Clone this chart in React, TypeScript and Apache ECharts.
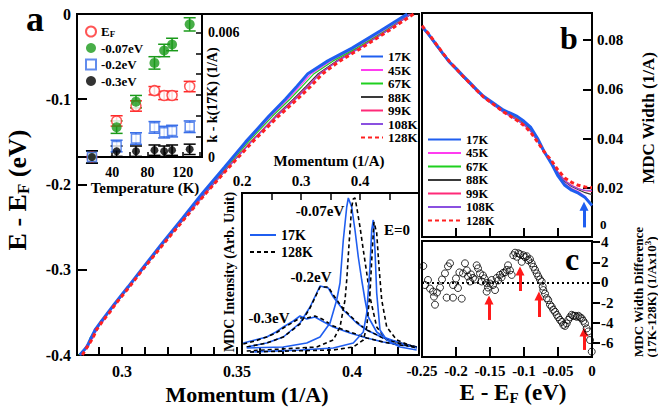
import React, { useEffect, useRef } from "react";
import * as echarts from "echarts";

const FONT = '"Liberation Serif", "Times New Roman", serif';

// ---------- panel a : dispersion k(E) for each temperature ----------
const tempNames = ["17K", "45K", "67K", "88K", "99K", "108K", "128K"];
const dispEnergy = [-0.4, -0.39, -0.38, -0.37, -0.36, -0.35, -0.34, -0.32, -0.3, -0.27, -0.24, -0.21, -0.18, -0.15, -0.12, -0.1, -0.085, -0.07, -0.055, -0.04, -0.02, 0];
const k17K = [0.2817, 0.2849, 0.2866, 0.2885, 0.2912, 0.294, 0.2968, 0.3027, 0.3085, 0.3172, 0.3262, 0.3351, 0.3445, 0.3538, 0.3638, 0.371, 0.376, 0.3808, 0.3895, 0.4, 0.4122, 0.424];
const k45K = [0.2822, 0.2845, 0.2872, 0.288, 0.2918, 0.2938, 0.2972, 0.3029, 0.3088, 0.3175, 0.3266, 0.3356, 0.3451, 0.3545, 0.3647, 0.3721, 0.3773, 0.3823, 0.3908, 0.4012, 0.4136, 0.425];
const k67K = [0.2812, 0.2852, 0.2862, 0.2892, 0.2908, 0.2945, 0.2966, 0.3031, 0.3088, 0.3177, 0.3268, 0.3359, 0.3455, 0.355, 0.3654, 0.373, 0.3783, 0.3835, 0.3918, 0.402, 0.4143, 0.4254];
const k88K = [0.282, 0.2847, 0.287, 0.2887, 0.2916, 0.2942, 0.2971, 0.303, 0.3089, 0.3178, 0.3271, 0.3364, 0.3461, 0.356, 0.3667, 0.3745, 0.38, 0.3853, 0.3933, 0.403, 0.415, 0.4258];
const k99K = [0.2825, 0.2843, 0.2875, 0.2883, 0.292, 0.2937, 0.2975, 0.3028, 0.309, 0.3176, 0.3269, 0.3362, 0.346, 0.356, 0.367, 0.375, 0.3806, 0.3859, 0.3937, 0.4032, 0.415, 0.4256];
const k108K = [0.2815, 0.2855, 0.2868, 0.2894, 0.291, 0.2946, 0.297, 0.3032, 0.3089, 0.3177, 0.327, 0.3363, 0.3461, 0.3562, 0.3673, 0.3754, 0.381, 0.3862, 0.3939, 0.4034, 0.4151, 0.4256];
const k128K = [0.2828, 0.2851, 0.2874, 0.2891, 0.2917, 0.2947, 0.2973, 0.3033, 0.309, 0.318, 0.3273, 0.3366, 0.3465, 0.3568, 0.368, 0.3762, 0.382, 0.3872, 0.3948, 0.404, 0.4157, 0.4268];
const dispK = [k17K, k45K, k67K, k88K, k99K, k108K, k128K];
const aMinorTicks = [0.29, 0.3, 0.31, 0.32, 0.33, 0.34, 0.35, 0.36, 0.37, 0.38, 0.39, 0.4, 0.41, 0.42];
const aLabels = [0.3, 0.35, 0.4];

// ---------- inset: k - k(17K) vs temperature ----------
const insetTemps = [17, 45, 67, 88, 99, 108, 128];
const shiftEF = [0, 0.00174, 0.00246, 0.0032, 0.00297, 0.00297, 0.0034];
const errEF = [0.0003, 0.00025, 0.00025, 0.0002, 0.0002, 0.0002, 0.00025];
const shift007 = [0, 0.00144, 0.00267, 0.00454, 0.00514, 0.00543, 0.0064];
const err007 = [0.0003, 0.0003, 0.0003, 0.0003, 0.0003, 0.0003, 0.00032];
const shift02 = [0, 0.00053, 0.00089, 0.00143, 0.0012, 0.00125, 0.00146];
const err02 = [0.0003, 0.00028, 0.00028, 0.00028, 0.00028, 0.00028, 0.00028];
const shift03 = [0, 0.00028, 0.00028, 0.00033, 0.00028, 0.00033, 0.00037];
const err03 = [0.0003, 0.00025, 0.00025, 0.00025, 0.00025, 0.00025, 0.00025];

// ---------- inset: MDC curves ----------
const mdcK03a = [0.2022, 0.222, 0.2419, 0.2576, 0.27, 0.287, 0.2983, 0.3097, 0.3237, 0.3356, 0.3547, 0.383, 0.4114, 0.4395, 0.4678, 0.4961];
const mdc17K03 = [14, 17, 20, 25, 30, 36, 41, 38, 40, 36, 30, 24, 19, 15, 12, 10];
const mdc128K03 = [13, 16, 20, 24, 29, 35, 39, 39, 41, 38, 31, 25, 19, 15, 12, 10];
const mdcK02 = [0.208, 0.2419, 0.27, 0.2983, 0.3153, 0.3266, 0.3322, 0.3463, 0.3548, 0.3717, 0.3944, 0.4114, 0.4395, 0.4678, 0.4961];
const mdc17K02 = [10, 14, 20, 34, 50, 64, 71, 69, 60, 47, 34, 27, 19, 14, 10];
const mdc128K02 = [10, 14, 20, 33, 49, 63, 70, 70, 62, 48, 35, 27, 19, 14, 10];
const mdcK007a = [0.208, 0.27, 0.3097, 0.3322, 0.3492, 0.3605, 0.3661, 0.3717, 0.3775, 0.3802, 0.3859, 0.3915, 0.3971, 0.4029, 0.4085, 0.4141, 0.4283, 0.4395, 0.4678, 0.4961];
const mdc17K007 = [9, 10, 14, 20, 34, 57, 74, 117, 150, 159, 150, 127, 100, 77, 57, 40, 25, 20, 14, 9];
const mdcK007b = [0.208, 0.3266, 0.3547, 0.3661, 0.3746, 0.3775, 0.3819, 0.3859, 0.3886, 0.3915, 0.3944, 0.4, 0.4056, 0.4114, 0.4169, 0.4283, 0.4452, 0.4961];
const mdc128K007 = [6, 10, 17, 30, 57, 77, 117, 150, 158, 159, 150, 130, 107, 84, 60, 30, 17, 9];
const mdcK0a = [0.2136, 0.2983, 0.3547, 0.3886, 0.4056, 0.4114, 0.4169, 0.4198, 0.4225, 0.4254, 0.4283, 0.4339, 0.4453, 0.4678, 0.4961];
const mdc17K0 = [5, 7, 9, 14, 25, 44, 90, 127, 137, 107, 64, 27, 17, 10, 7];
const mdcK0b = [0.2136, 0.3547, 0.3886, 0.4056, 0.4114, 0.4169, 0.4208, 0.4237, 0.4283, 0.4322, 0.4368, 0.4453, 0.4622, 0.4961];
const mdc128K0 = [5, 7, 10, 17, 30, 64, 107, 135, 124, 90, 57, 30, 17, 9];

// ---------- panel b : MDC width ----------
const bEnergy = [-0.25, -0.24, -0.23, -0.22, -0.21, -0.2, -0.19, -0.18, -0.17, -0.16, -0.15, -0.14, -0.13, -0.12, -0.11, -0.1, -0.09, -0.08, -0.07, -0.06, -0.05, -0.04, -0.03, -0.02, -0.01, 0];
const w17K = [0.0855, 0.0822, 0.0785, 0.0748, 0.0712, 0.0685, 0.0656, 0.0628, 0.06, 0.0573, 0.0554, 0.0534, 0.0515, 0.0503, 0.049, 0.047, 0.0445, 0.04, 0.0345, 0.03, 0.0248, 0.021, 0.019, 0.0178, 0.016, 0.0128];
const w45K = [0.0853, 0.082, 0.0782, 0.0745, 0.071, 0.0683, 0.0652, 0.0625, 0.0597, 0.057, 0.055, 0.053, 0.0512, 0.0498, 0.0484, 0.0463, 0.0438, 0.0398, 0.0348, 0.0305, 0.0255, 0.0218, 0.0198, 0.0185, 0.0165, 0.013];
const w67K = [0.0857, 0.0818, 0.0786, 0.0742, 0.0713, 0.0681, 0.0655, 0.0623, 0.0598, 0.0571, 0.0551, 0.0531, 0.051, 0.0496, 0.048, 0.046, 0.0436, 0.0398, 0.0345, 0.0302, 0.0252, 0.0214, 0.0194, 0.018, 0.0158, 0.0135];
const w88K = [0.0852, 0.0823, 0.078, 0.0747, 0.0709, 0.068, 0.065, 0.0622, 0.0594, 0.0568, 0.0547, 0.0527, 0.0508, 0.0492, 0.0476, 0.0458, 0.0432, 0.0392, 0.0342, 0.0305, 0.026, 0.0225, 0.0205, 0.0192, 0.018, 0.0172];
const w99K = [0.0856, 0.0819, 0.0784, 0.0744, 0.0711, 0.0682, 0.0653, 0.0624, 0.0596, 0.0569, 0.0548, 0.0528, 0.0509, 0.0493, 0.0477, 0.0457, 0.043, 0.039, 0.0343, 0.0307, 0.0265, 0.023, 0.021, 0.0197, 0.0188, 0.0185];
const w108K = [0.0851, 0.0821, 0.0781, 0.0746, 0.0708, 0.0679, 0.0651, 0.0621, 0.0593, 0.0567, 0.0546, 0.0526, 0.0506, 0.049, 0.0474, 0.0455, 0.0428, 0.0389, 0.0342, 0.0306, 0.0263, 0.0228, 0.0208, 0.0195, 0.019, 0.019];
const w128K = [0.0858, 0.0825, 0.0787, 0.0749, 0.0714, 0.0684, 0.0654, 0.0626, 0.0597, 0.057, 0.0549, 0.0529, 0.0508, 0.0491, 0.0473, 0.0453, 0.0425, 0.0386, 0.0345, 0.0312, 0.0272, 0.024, 0.0222, 0.021, 0.0203, 0.02];
const widths = [w17K, w45K, w67K, w88K, w99K, w108K, w128K];
const bTicks = [-0.2, -0.15, -0.1, -0.05];
const bLabels = [0.02, 0.04, 0.06, 0.08];

// ---------- panel c : width difference (17K - 128K) ----------
const cEnergy = [-0.2481, -0.2456, -0.2412, -0.2382, -0.2338, -0.2324, -0.2309, -0.228, -0.2235, -0.2206, -0.2162, -0.2137, -0.2118, -0.2088, -0.2044, -0.2044, -0.2, -0.1971, -0.195, -0.1916, -0.1897, -0.1868, -0.184, -0.1824, -0.1794, -0.178, -0.175, -0.172, -0.1696, -0.1676, -0.1647, -0.1622, -0.1603, -0.158, -0.1549, -0.1549, -0.153, -0.15, -0.1475, -0.1456, -0.1426, -0.1401, -0.138, -0.1353, -0.133, -0.1309, -0.128, -0.1254, -0.1235, -0.1206, -0.1181, -0.1157, -0.1132, -0.1107, -0.1084, -0.1059, -0.1034, -0.101, -0.0985, -0.096, -0.0937, -0.0912, -0.0887, -0.0863, -0.0838, -0.0813, -0.079, -0.0765, -0.074, -0.0725, -0.0716, -0.0691, -0.0666, -0.0643, -0.0618, -0.0593, -0.0569, -0.0544, -0.0519, -0.0496, -0.0471, -0.0446, -0.0422, -0.0397, -0.0372, -0.0349, -0.0324, -0.0299, -0.0275, -0.025, -0.0225, -0.0201, -0.0176, -0.0151, -0.0128, -0.0103, -0.0078, -0.0054, -0.0029, -0.0004];
const cDiff = [1.63, -0.25, 0.25, -0.6, -0.9, -1.4, -2.2, -1.0, -0.5, 0.3, 0.9, -1.5, 1.6, 1.9, -0.25, -1.5, 0.4, -0.55, 1.0, -1.6, 0.9, 1.9, 1.2, 0.6, 0.1, 0.8, 0.45, 0.3, 1.7, 1.4, 0.9, 0.1, 0.7, 0.4, -0.05, -0.9, -0.5, -0.1, 0.25, -0.25, -0.75, 0.45, 0.2, 0.75, 0.5, 0.95, 1.0, 1.25, 1.7, 1.2, 0.75, 2.7, 2.95, 2.55, 2.9, 2.8, 2.05, 2.7, 2.5, 2.6, 2.2, 2.3, 1.9, 1.55, 1.25, 0.9, 0.6, 0.3, 0.1, -0.4, -0.75, -1.1, -1.55, -1.75, -2.2, -2.4, -2.7, -2.9, -3.2, -3.45, -3.7, -3.9, -4.2, -4.3, -4.05, -3.7, -3.45, -3.2, -3.3, -3.3, -3.4, -3.3, -3.45, -3.55, -3.8, -4.05, -4.55, -4.85, -5.7, -6.85];
const cTicks = [-6, -4, -2, 0, 2, 4];
const cXLabels = [-0.25, -0.2, -0.15, -0.1, -0.05, 0];
// arrows: energy, from, to
const cArrowE = [-0.1515, -0.1059, -0.078, -0.0118];
const cArrowFrom = [-3.71, -0.84, -3.42, -6.68];
const cArrowTo = [-1.73, 1.14, -1.34, -4.9];
const bArrowE = -0.0118;
const bArrowFrom = 0.0039;
const bArrowTo = 0.0125;

// ---------- styles ----------
const tColors = ["#1f5ef0", "#ff3cf0", "#1fd01f", "#3a3a3a", "#ff2a78", "#8a50e0", "#ff2020"];
const tWidths = [3, 1.2, 1.2, 1.2, 1.2, 1.2, 3];

const bold = (size: number) => ({ fontFamily: FONT, fontWeight: "bold" as const, fontSize: size, color: "#000" });

export default function App() {
  const ref = useRef<HTMLDivElement>(null);
  useEffect(() => {
    if (!ref.current) return;
    const chart = echarts.init(ref.current, null, { renderer: "svg" });

    const axisLineBase = { show: true, onZero: false, lineStyle: { color: "#000", width: 2 } };
    const noSplit = { show: false };

    const grids = [
      { left: 77, top: 14, width: 342, height: 341 },
      { left: 77, top: 14, width: 125, height: 143, backgroundColor: "#fff" },
      { left: 242, top: 193, width: 177, height: 162, backgroundColor: "#fff" },
      { left: 422, top: 13, width: 170, height: 224 },
      { left: 422, top: 241, width: 170, height: 116 },
    ].map((g) => ({ ...g, show: true, borderColor: "#000", borderWidth: 2, containLabel: false, outerBoundsMode: "none", z: 0 }));

    const xAxis: any[] = [
      {
        gridIndex: 0, type: "value", min: 0.2805, max: 0.4291, axisLine: axisLineBase, splitLine: noSplit,
        axisTick: { show: true, inside: true, length: 8, lineStyle: { width: 2, color: "#000" }, customValues: aMinorTicks },
        axisLabel: { ...bold(16), margin: 8, customValues: aLabels },
      },
      {
        gridIndex: 1, type: "value", min: 0, max: 142, axisLine: axisLineBase, splitLine: noSplit,
        axisTick: { show: true, inside: true, length: 5, lineStyle: { width: 1.5, color: "#000" }, customValues: [20, 40, 60, 80, 100, 120, 140] },
        axisLabel: { ...bold(14), margin: 8, customValues: [40, 80, 120] },
      },
      {
        gridIndex: 2, type: "value", position: "top", min: 0.2, max: 0.5, axisLine: axisLineBase, splitLine: noSplit,
        axisTick: { show: true, inside: true, length: 7, lineStyle: { width: 1.5, color: "#000" }, customValues: [0.25, 0.3, 0.35, 0.4, 0.45] },
        axisLabel: { ...bold(15), margin: 5, customValues: [0.2, 0.3, 0.4] },
      },
      {
        gridIndex: 3, type: "value", min: -0.25, max: 0, axisLine: axisLineBase, splitLine: noSplit,
        axisTick: { show: true, inside: true, length: 9, lineStyle: { width: 2, color: "#000" }, customValues: bTicks },
        axisLabel: { show: false },
      },
      {
        gridIndex: 4, type: "value", min: -0.25, max: 0, axisLine: axisLineBase, splitLine: noSplit,
        axisTick: { show: true, inside: true, length: 10, lineStyle: { width: 2, color: "#000" }, customValues: bTicks },
        axisLabel: { ...bold(15), margin: 6, customValues: cXLabels },
      },
    ];
    const yAxis: any[] = [
      {
        gridIndex: 0, type: "value", min: -0.4, max: 0, interval: 0.1, axisLine: axisLineBase, splitLine: noSplit,
        axisTick: { show: true, inside: true, length: 10, lineStyle: { width: 2, color: "#000" } },
        axisLabel: { ...bold(16), margin: 6 },
      },
      {
        gridIndex: 1, type: "value", position: "right", min: 0, max: 0.0069, axisLine: axisLineBase, splitLine: noSplit,
        axisTick: { show: true, inside: true, length: 6, lineStyle: { width: 1.5, color: "#000" }, customValues: [0.001, 0.002, 0.003, 0.004, 0.005, 0.006] },
        axisLabel: { ...bold(14), margin: 6, customValues: [0, 0.006] },
      },
      {
        gridIndex: 2, type: "value", min: 2, max: 164, axisLine: axisLineBase, splitLine: noSplit,
        axisTick: { show: false }, axisLabel: { show: false },
      },
      {
        gridIndex: 3, type: "value", position: "right", min: 0, max: 0.091, axisLine: axisLineBase, splitLine: noSplit,
        axisTick: { show: true, inside: true, length: 9, lineStyle: { width: 2, color: "#000" }, customValues: [0.02, 0.04, 0.06, 0.08] },
        axisLabel: { ...bold(15), margin: 5, customValues: bLabels },
      },
      {
        gridIndex: 4, type: "value", position: "right", min: -7.38, max: 4.11, axisLine: axisLineBase, splitLine: noSplit,
        axisTick: { show: true, inside: false, length: 8, lineStyle: { width: 2, color: "#000" }, customValues: cTicks },
        axisLabel: { ...bold(15), margin: 9, customValues: cTicks },
      },
    ];

    const series: any[] = [];
    const drawOrder = [1, 2, 3, 4, 5, 0, 6];
    drawOrder.forEach((ti) => {
      series.push({
        type: "line", name: tempNames[ti], xAxisIndex: 0, yAxisIndex: 0, symbol: "none",
        data: dispEnergy.map((e, i) => [dispK[ti][i], e]),
        lineStyle: { color: tColors[ti], width: tWidths[ti], type: ti === 6 ? [4, 3] : "solid" },
        itemStyle: { color: tColors[ti] }, z: ti === 0 || ti === 6 ? 4 : 3,
      });
    });
    drawOrder.forEach((ti) => {
      series.push({
        type: "line", name: tempNames[ti], xAxisIndex: 3, yAxisIndex: 3, symbol: "none",
        data: bEnergy.map((e, i) => [e, widths[ti][i]]),
        lineStyle: { color: tColors[ti], width: ti === 0 ? 3 : ti === 6 ? 3 : 1.2, type: ti === 6 ? [4, 3] : "solid" },
        itemStyle: { color: tColors[ti] }, z: ti === 0 || ti === 6 ? 4 : 3,
      });
    });

    // inset scatter + error bars
    const insetSets = [
      { name: "EF", vals: shiftEF, errs: errEF, color: "#ff2a2a", symbol: "circle", filled: false, size: 10 },
      { name: "-0.07eV", vals: shift007, errs: err007, color: "#1a9a1a", symbol: "circle", filled: true, size: 10 },
      { name: "-0.2eV", vals: shift02, errs: err02, color: "#3a6fe8", symbol: "rect", filled: false, size: 9 },
      { name: "-0.3eV", vals: shift03, errs: err03, color: "#000", symbol: "circle", filled: true, size: 8 },
    ];
    insetSets.forEach((s) => {
      series.push({
        type: "custom", name: s.name + " err", xAxisIndex: 1, yAxisIndex: 1, z: 5, clip: false,
        data: insetTemps.map((t, i) => [t, s.vals[i] - s.errs[i], s.vals[i] + s.errs[i]]),
        renderItem: (params: any, api: any) => {
          const p1 = api.coord([api.value(0), api.value(1)]);
          const p2 = api.coord([api.value(0), api.value(2)]);
          const cap = 6;
          const st = { stroke: s.color, lineWidth: 1.5 };
          return {
            type: "group",
            children: [
              { type: "line", shape: { x1: p1[0], y1: p1[1], x2: p2[0], y2: p2[1] }, style: st },
              { type: "line", shape: { x1: p1[0] - cap, y1: p1[1], x2: p1[0] + cap, y2: p1[1] }, style: st },
              { type: "line", shape: { x1: p2[0] - cap, y1: p2[1], x2: p2[0] + cap, y2: p2[1] }, style: st },
            ],
          };
        },
      });
    });
    insetSets.forEach((s) => {
      series.push({
        type: "scatter", name: s.name, xAxisIndex: 1, yAxisIndex: 1, z: 6, clip: false,
        symbol: s.symbol, symbolSize: s.size,
        data: insetTemps.map((t, i) => [t, s.vals[i]]),
        itemStyle: s.filled ? { color: s.color } : { color: "#fff", borderColor: s.color, borderWidth: 1.5 },
      });
    });

    // MDC curves
    const mdcSets = [
      { k: mdcK03a, a: mdc17K03, dashed: false },
      { k: mdcK03a, a: mdc128K03, dashed: true },
      { k: mdcK02, a: mdc17K02, dashed: false },
      { k: mdcK02, a: mdc128K02, dashed: true },
      { k: mdcK007a, a: mdc17K007, dashed: false },
      { k: mdcK007b, a: mdc128K007, dashed: true },
      { k: mdcK0a, a: mdc17K0, dashed: false },
      { k: mdcK0b, a: mdc128K0, dashed: true },
    ];
    mdcSets.forEach((m) => {
      series.push({
        type: "line", name: m.dashed ? "MDC 128K" : "MDC 17K", xAxisIndex: 2, yAxisIndex: 2, symbol: "none", z: 5,
        data: m.k.map((k, i) => [k, m.a[i]]),
        lineStyle: m.dashed ? { color: "#000", width: 1.6, type: [4, 3] } : { color: "#1f5ef0", width: 1.6 },
        itemStyle: { color: m.dashed ? "#000" : "#1f5ef0" },
      });
    });

    // panel c scatter
    series.push({
      type: "scatter", name: "diff", xAxisIndex: 4, yAxisIndex: 4, symbol: "circle", symbolSize: 7, z: 5,
      data: cEnergy.map((e, i) => [e, cDiff[i]]),
      itemStyle: { color: "rgba(255,255,255,0)", borderColor: "#000", borderWidth: 1 },
      markLine: {
        silent: true, symbol: ["none", "none"], label: { show: false },
        lineStyle: { color: "#000", type: [2, 3], width: 2 },
        data: [{ yAxis: 0 }],
      },
    });
    // arrows in c
    series.push({
      type: "line", name: "c arrows", xAxisIndex: 4, yAxisIndex: 4, data: [], z: 6,
      markLine: {
        silent: true, symbol: ["none", "triangle"], symbolSize: [9, 9], label: { show: false },
        lineStyle: { color: "#ff1a1a", type: "solid", width: 3 },
        data: cArrowE.map((e, i) => [{ coord: [e, cArrowFrom[i]] }, { coord: [e, cArrowTo[i]] }]),
      },
    });
    series.push({
      type: "line", name: "b arrow", xAxisIndex: 3, yAxisIndex: 3, data: [], z: 6,
      markLine: {
        silent: true, symbol: ["none", "triangle"], symbolSize: [9, 9], label: { show: false },
        lineStyle: { color: "#1f5ef0", type: "solid", width: 3 },
        data: [[{ coord: [bArrowE, bArrowFrom] }, { coord: [bArrowE, bArrowTo] }]],
      },
    });

    const legendText = { fontFamily: FONT, fontWeight: "bold", fontSize: 13, color: "#000" };
    const noSym = { opacity: 0 };
    const legend: any[] = [
      { data: tempNames, orient: "vertical", left: 360, top: 50, itemWidth: 22, itemHeight: 12, itemGap: 0.5, padding: 0, selectedMode: false, itemStyle: noSym, textStyle: legendText },
      { data: tempNames, orient: "vertical", left: 427, top: 133, itemWidth: 33, itemHeight: 12, itemGap: 0.5, padding: 0, selectedMode: false, itemStyle: noSym, textStyle: { ...legendText, fontSize: 12.5 } },
      {
        data: insetSets.map((s) => s.name), orient: "vertical", left: 85, top: 25, itemWidth: 10, itemHeight: 10, itemGap: 3.5, padding: 0, selectedMode: false,
        formatter: (n: string) => (n === "EF" ? "{m|E}{s|F}" : "{m|" + n + "}"),
        textStyle: { ...legendText, rich: { m: { ...legendText }, s: { ...legendText, fontSize: 9, verticalAlign: "bottom", lineHeight: 9 } } },
      },
      {
        data: ["MDC 17K", "MDC 128K"], orient: "vertical", left: 249, top: 228, itemWidth: 26, itemHeight: 12, itemGap: 3, padding: 0, selectedMode: false, itemStyle: noSym,
        formatter: (n: string) => n.replace("MDC ", ""), textStyle: { ...legendText, fontSize: 14 },
      },
    ];

    const t = (text: string, x: number, y: number, size: number, extra: any = {}) => ({
      type: "text", x, y, rotation: extra.rot || 0, z: 100,
      style: { text, fontFamily: FONT, fontWeight: "bold", fontSize: size, fill: "#000", align: extra.align || "center", verticalAlign: "middle", rich: extra.rich },
    });
    const rs = (size: number, more: any = {}) => ({ fontFamily: FONT, fontWeight: "bold", fontSize: size, fill: "#000", color: "#000", ...more });

    const graphic: any[] = [
      t("a", 35, 19, 36),
      t("b", 569, 38, 32),
      t("c", 572, 259, 32),
      t("0", 600, 224, 13, { align: "left" }),
      t("{m|E - E}{s|F}{m| (eV)}", 17, 190, 26, { rot: Math.PI / 2, rich: { m: rs(26, { lineHeight: 30 }), s: rs(17, { verticalAlign: "bottom", lineHeight: 17 }) } }),
      t("Momentum (1/A)", 247, 394, 22),
      t("{m|E - E}{s|F}{m| (eV)}", 513, 392, 23, { rich: { m: rs(23, { lineHeight: 26 }), s: rs(15, { verticalAlign: "bottom", lineHeight: 15 }) } }),
      t("MDC Width (1/A)", 648, 118, 17, { rot: Math.PI / 2 }),
      t("MDC Width Difference", 638, 292, 13, { rot: Math.PI / 2 }),
      t("{m|(17K-128K) (1/Ax10}{p|3}{m|)}", 651, 297, 13, { rot: Math.PI / 2, rich: { m: rs(13, { lineHeight: 16 }), p: rs(9, { verticalAlign: "top", lineHeight: 9 }) } }),
      t("k - k(17K) (1/A)", 212, 95, 14, { rot: Math.PI / 2 }),
      t("Temperature (K)", 145, 188, 15),
      t("Momentum (1/A)", 329, 161, 15),
      t("MDC Intensity (Arb. Unit)", 229, 272, 14, { rot: Math.PI / 2 }),
      t("-0.07eV", 320, 211, 15),
      t("E=0", 397, 230, 15),
      t("-0.2eV", 311, 277, 15),
      t("-0.3eV", 269, 318, 15),
    ];

    chart.setOption({
      animation: false,
      backgroundColor: "#fff",
      textStyle: { fontFamily: FONT },
      grid: grids,
      xAxis,
      yAxis,
      legend,
      series,
      graphic,
    });
    return () => chart.dispose();
  }, []);
  return <div ref={ref} style={{ position: "fixed", left: 0, top: 0, width: 658, height: 407 }} />;
}
